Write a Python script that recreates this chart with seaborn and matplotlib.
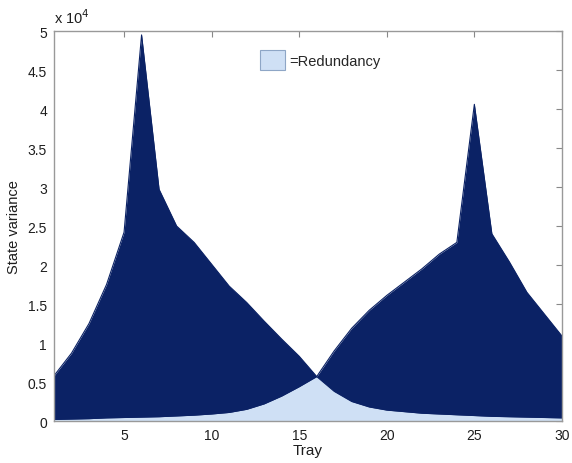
import numpy as np
import pandas as pd

import matplotlib
matplotlib.use("Agg")
import matplotlib.pyplot as plt
import seaborn as sns
from matplotlib.patches import Patch
from matplotlib.ticker import FuncFormatter, MultipleLocator

# =====================================================
# DATA
# =====================================================

tray = list(range(1, 31))

# variance curve peaking at tray 6
variance_a = [
    5800, 8700, 12500, 17500, 24200, 49500, 29700, 25000, 22900, 20100,
    17300, 15200, 12800, 10500, 8300, 5700, 3800, 2500, 1800, 1400,
    1200, 1000, 900, 800, 700, 600, 550, 500, 450, 400
]

# variance curve peaking at tray 25
variance_b = [
    200, 250, 300, 400, 450, 500, 550, 650, 750, 900,
    1100, 1500, 2200, 3200, 4400, 5700, 9000, 11900, 14200, 16100,
    17800, 19500, 21400, 22900, 40600, 24000, 20400, 16500, 13700, 10900
]

df = pd.DataFrame({
    "Tray": tray,
    "A": variance_a,
    "B": variance_b
})
df["Redundancy"] = np.minimum(df["A"], df["B"])

# =====================================================
# STYLE
# =====================================================

sns.set_style("white")
plt.rcParams["font.family"] = ["Liberation Sans", "DejaVu Sans"]

dark = "#0b2265"
light = "#cfe0f5"
txt = "#1e1e1e"

fig = plt.figure(figsize=(5.72, 4.64), dpi=100)
ax = fig.add_axes([0.0944, 0.0905, 0.8880, 0.8405])

# =====================================================
# AREAS
# =====================================================

ax.fill_between(df["Tray"], 0, df["A"], color=dark, lw=0)
ax.fill_between(df["Tray"], 0, df["B"], color=dark, lw=0)
sns.lineplot(data=df, x="Tray", y="A", color=dark, lw=0.8, ax=ax)
sns.lineplot(data=df, x="Tray", y="B", color=dark, lw=0.8, ax=ax)
ax.fill_between(df["Tray"], 0, df["Redundancy"], color=light, lw=0)

# =====================================================
# AXES
# =====================================================

ax.set_xlim(1, 30)
ax.set_ylim(0, 50000)
ax.xaxis.set_major_locator(MultipleLocator(5))
ax.yaxis.set_major_locator(MultipleLocator(5000))
ax.yaxis.set_major_formatter(FuncFormatter(lambda v, p: "%g" % (v / 1e4)))

ax.tick_params(
    direction="in", top=True, right=True,
    length=4, width=0.8, color="#888888",
    labelsize=10, labelcolor=txt, pad=5
)
for s in ax.spines.values():
    s.set_color("#999999")
    s.set_linewidth(1.0)

ax.set_xlabel("Tray", fontsize=11, color=txt, labelpad=1)
ax.set_ylabel("State variance", fontsize=10.5, color=txt, labelpad=5)

ax.text(0.0, 1.012, r"x 10$^{4}$", transform=ax.transAxes,
        fontsize=10.5, color=txt, ha="left", va="bottom")

# =====================================================
# LEGEND
# =====================================================

handle = Patch(facecolor=light, edgecolor="#8ea6c6", lw=0.8)
ax.legend(
    [handle], ["=Redundancy"],
    loc="upper left", bbox_to_anchor=(0.38, 0.985),
    frameon=False, fontsize=10.5,
    handlelength=1.7, handleheight=1.7, handletextpad=0.3
)

fig.savefig("out.png", dpi=100)
